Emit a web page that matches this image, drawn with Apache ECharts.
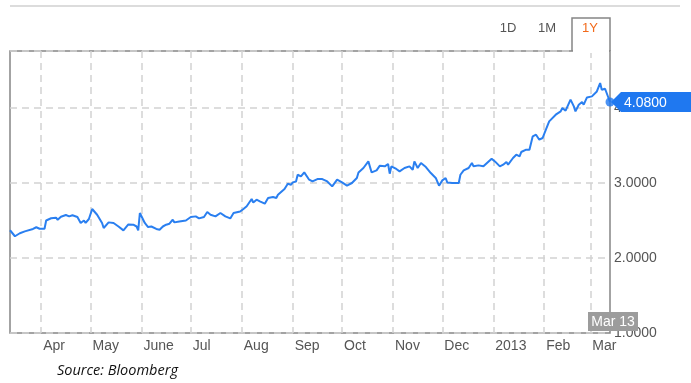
<!DOCTYPE html>
<html>
<head>
<meta charset="utf-8">
<script src="https://cdn.jsdelivr.net/npm/echarts@6/dist/echarts.min.js"></script>
<style>
  html, body { margin: 0; padding: 0; background: #fff; }
  #chart { width: 691px; height: 383px; }
</style>
</head>
<body>
<div id="chart"></div>
<script>
// One year of closing prices, 13 Mar 2012 – 13 Mar 2013
const dates = [
  '2012-03-13','2012-03-16','2012-03-19','2012-03-22','2012-03-27','2012-03-29','2012-03-31',
  '2012-04-03','2012-04-04','2012-04-07','2012-04-10','2012-04-11','2012-04-13','2012-04-16',
  '2012-04-18','2012-04-20','2012-04-23','2012-04-24','2012-04-25','2012-04-27','2012-04-28',
  '2012-04-30','2012-05-02','2012-05-05','2012-05-08','2012-05-09','2012-05-12','2012-05-15',
  '2012-05-18','2012-05-21','2012-05-24','2012-05-27','2012-05-29','2012-05-30','2012-05-31',
  '2012-06-03','2012-06-05','2012-06-07','2012-06-10','2012-06-12','2012-06-14','2012-06-16',
  '2012-06-18','2012-06-20','2012-06-21','2012-06-24','2012-06-28','2012-07-01','2012-07-04',
  '2012-07-06','2012-07-09','2012-07-11','2012-07-13','2012-07-16','2012-07-19','2012-07-22',
  '2012-07-25','2012-07-27','2012-07-31','2012-08-02','2012-08-04','2012-08-07','2012-08-08',
  '2012-08-10','2012-08-12','2012-08-15','2012-08-17','2012-08-20','2012-08-22','2012-08-23',
  '2012-08-24','2012-08-27','2012-08-29','2012-08-31','2012-09-01','2012-09-03','2012-09-04',
  '2012-09-06','2012-09-08','2012-09-09','2012-09-11','2012-09-13','2012-09-16','2012-09-19',
  '2012-09-22','2012-09-25','2012-09-28','2012-10-01','2012-10-04','2012-10-07','2012-10-10',
  '2012-10-11','2012-10-14','2012-10-17','2012-10-19','2012-10-22','2012-10-24','2012-10-27',
  '2012-10-29','2012-10-30','2012-10-31','2012-11-03','2012-11-05','2012-11-08','2012-11-11',
  '2012-11-13','2012-11-14','2012-11-16','2012-11-18','2012-11-21','2012-11-24','2012-11-27',
  '2012-11-29','2012-12-01','2012-12-03','2012-12-04','2012-12-07','2012-12-11','2012-12-12',
  '2012-12-14','2012-12-17','2012-12-19','2012-12-20','2012-12-23','2012-12-26','2012-12-31',
  '2013-01-02','2013-01-05','2013-01-07','2013-01-09','2013-01-10','2013-01-13','2013-01-15',
  '2013-01-17','2013-01-18','2013-01-21','2013-01-23','2013-01-25','2013-01-27','2013-01-28',
  '2013-01-29','2013-01-31','2013-02-02','2013-02-04','2013-02-08','2013-02-11','2013-02-12',
  '2013-02-14','2013-02-17','2013-02-19','2013-02-20','2013-02-22','2013-02-24','2013-02-25',
  '2013-02-27','2013-02-28','2013-03-02','2013-03-05','2013-03-07','2013-03-08','2013-03-10',
  '2013-03-11','2013-03-13'
];
const prices = [
  2.37, 2.29, 2.33, 2.355, 2.387, 2.41, 2.39,
  2.39, 2.50, 2.53, 2.537, 2.51, 2.55, 2.573,
  2.555, 2.57, 2.547, 2.547, 2.467, 2.50, 2.467,
  2.52, 2.653, 2.577, 2.467, 2.40, 2.475, 2.467,
  2.42, 2.368, 2.448, 2.444, 2.42, 2.368, 2.60,
  2.467, 2.413, 2.42, 2.387, 2.377, 2.42, 2.444,
  2.457, 2.51, 2.475, 2.488, 2.50, 2.547, 2.555,
  2.528, 2.547, 2.613, 2.577, 2.555, 2.60, 2.555,
  2.528, 2.60, 2.62, 2.653, 2.69, 2.787, 2.74,
  2.777, 2.755, 2.724, 2.80, 2.813, 2.80, 2.844,
  2.867, 2.92, 2.99, 2.977, 3.008, 3.021, 3.11,
  3.088, 3.141, 3.141, 3.044, 3.021, 3.053, 3.053,
  3.021, 2.955, 3.044, 3.008, 2.964, 3.0, 3.067,
  3.141, 3.20, 3.288, 3.141, 3.168, 3.231, 3.222,
  3.253, 3.124, 3.222, 3.187, 3.155, 3.20, 3.222,
  3.177, 3.288, 3.20, 3.267, 3.213, 3.133, 3.067,
  2.964, 3.035, 3.067, 3.008, 3.0, 3.0, 3.11,
  3.168, 3.20, 3.267, 3.222, 3.235, 3.222, 3.324,
  3.288, 3.222, 3.244, 3.28, 3.244, 3.333, 3.377,
  3.355, 3.413, 3.444, 3.444, 3.622, 3.644, 3.635,
  3.577, 3.60, 3.711, 3.822, 3.911, 3.955, 4.0,
  3.964, 4.111, 4.021, 3.955, 4.044, 4.08, 4.044,
  4.141, 4.124, 4.155, 4.221, 4.333, 4.244, 4.257,
  4.25, 4.08
];

// Month boundaries used for ticks, grid lines and labels
const monthStarts = [
  '2012-04-01','2012-05-01','2012-06-01','2012-07-01','2012-08-01','2012-09-01',
  '2012-10-01','2012-11-01','2012-12-01','2013-01-01','2013-02-01','2013-03-01'
];
const monthLabels = ['Apr','May','June','Jul','Aug','Sep','Oct','Nov','Dec','2013','Feb','Mar'];
const rangeTabs = ['1D', '1M', '1Y'];
const monthShort = ['Jan','Feb','Mar','Apr','May','Jun','Jul','Aug','Sep','Oct','Nov','Dec'];

function toTime(s) {
  const p = s.split('-').map(Number);
  return new Date(p[0], p[1] - 1, p[2]).getTime();
}

const seriesData = dates.map((d, i) => [toTime(d), prices[i]]);
const tickTimes = monthStarts.map(toTime);
const lastIdx = dates.length - 1;
const lastPoint = seriesData[lastIdx];

const FONT = '"Liberation Sans", Arial, sans-serif';
const GRID = { left: 10, right: 81, top: 51, bottom: 50 };

const chart = echarts.init(document.getElementById('chart'), null, { renderer: 'canvas' });

chart.setOption({
  animation: false,
  backgroundColor: '#fff',
  grid: {
    left: GRID.left, right: GRID.right, top: GRID.top, bottom: GRID.bottom,
    show: true, borderColor: '#858585', borderWidth: 1.5, backgroundColor: 'transparent'
  },
  xAxis: {
    // timestamps on a linear scale, ticks placed on month starts
    type: 'value',
    min: toTime(dates[0]),
    max: toTime(dates[lastIdx]),
    axisLine: { show: false },
    axisTick: { show: false, customValues: tickTimes },
    splitLine: { show: true, lineStyle: { color: '#d2d2d2', width: 1.5, type: [7, 5] } },
    axisLabel: {
      customValues: tickTimes,
      align: 'left',
      margin: 6,
      padding: [0, 0, 0, 2],
      color: '#555',
      fontSize: 14,
      fontFamily: FONT,
      formatter: (v) => {
        const i = tickTimes.indexOf(v);
        return i >= 0 ? monthLabels[i] : '';
      }
    }
  },
  yAxis: {
    type: 'value',
    position: 'right',
    min: 1,
    max: 4.76,
    interval: 1,
    axisLine: { show: false },
    axisTick: { show: false },
    splitLine: { show: true, lineStyle: { color: '#d2d2d2', width: 1.5, type: [7, 5] } },
    axisLabel: {
      showMaxLabel: false,
      margin: 4,
      padding: [5, 0, 0, 0],
      color: '#555',
      fontSize: 14,
      fontFamily: FONT,
      formatter: (v) => v.toFixed(4)
    }
  },
  series: [
    {
      type: 'line',
      data: seriesData,
      showSymbol: false,
      lineStyle: { color: '#2a7ff0', width: 2 },
      itemStyle: { color: '#2a7ff0' },
      z: 3
    },
    {
      type: 'scatter',
      data: [lastPoint],
      symbol: 'circle',
      symbolSize: 9,
      itemStyle: { color: '#1f78f0' },
      z: 5
    }
  ]
});

// Chrome around the plot: top rule, range tabs, and value / date badges
const pt = chart.convertToPixel({ gridIndex: 0 }, lastPoint);
const base = chart.convertToPixel({ gridIndex: 0 }, [lastPoint[0], 1]);
const W = 691;
const plotRight = W - GRID.right;
const tabLeft = 572, tabTop = 18;
const lastDate = new Date(lastPoint[0]);
const dateText = monthShort[lastDate.getMonth()] + ' ' + lastDate.getDate();

chart.setOption({
  graphic: [
    { type: 'line', z: 50, shape: { x1: 10, y1: 6, x2: 680, y2: 6 },
      style: { stroke: '#dcdcdc', lineWidth: 2 } },
    // active tab opening into the plot
    { type: 'rect', z: 50, shape: { x: tabLeft + 1, y: GRID.top - 3, width: plotRight - tabLeft - 2, height: 5 },
      style: { fill: '#fff' } },
    { type: 'polyline', z: 51,
      shape: { points: [[tabLeft, GRID.top], [tabLeft, tabTop], [plotRight, tabTop], [plotRight, GRID.top]] },
      style: { stroke: '#858585', lineWidth: 1.5, fill: null } },
    { type: 'text', z: 52, x: 508, y: 28,
      style: { text: rangeTabs[0], fill: '#555', font: '13px ' + FONT, align: 'center', verticalAlign: 'middle' } },
    { type: 'text', z: 52, x: 547, y: 28,
      style: { text: rangeTabs[1], fill: '#555', font: '13px ' + FONT, align: 'center', verticalAlign: 'middle' } },
    { type: 'text', z: 52, x: 590, y: 28,
      style: { text: rangeTabs[2], fill: '#f26a1b', font: '13px ' + FONT, align: 'center', verticalAlign: 'middle' } },
    // last value badge
    { type: 'polygon', z: 60,
      shape: { points: [[plotRight + 1, pt[1]], [plotRight + 11, pt[1] - 10], [W, pt[1] - 10], [W, pt[1] + 10], [plotRight + 11, pt[1] + 10]] },
      style: { fill: '#1f78f0' } },
    { type: 'text', z: 61, x: plotRight + 14, y: pt[1] + 1,
      style: { text: lastPoint[1].toFixed(4), fill: '#fff', font: '14px ' + FONT, verticalAlign: 'middle' } },
    // last date badge
    { type: 'rect', z: 60, shape: { x: base[0] - 22, y: base[1] - 21, width: 50, height: 19 },
      style: { fill: '#9c9c9c' } },
    { type: 'text', z: 61, x: base[0] + 3, y: base[1] - 11,
      style: { text: dateText, fill: '#fff', font: '14px ' + FONT, align: 'center', verticalAlign: 'middle' } },
    // source note
    { type: 'text', z: 61, x: 57, y: 371,
      style: { text: 'Source: Bloomberg', fill: '#111', font: 'italic 14.5px "Open Sans", sans-serif', verticalAlign: 'middle' } }
  ]
});
</script>
</body>
</html>
